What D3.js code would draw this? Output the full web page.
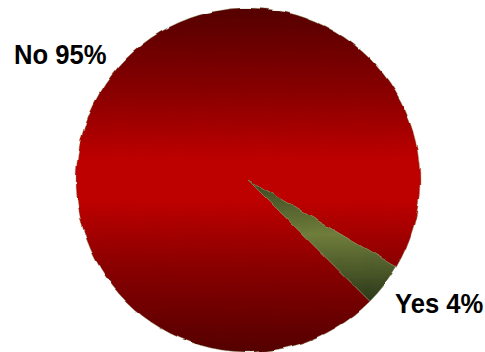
<!DOCTYPE html>
<html>
<head>
<meta charset="utf-8">
<script src="https://cdn.jsdelivr.net/npm/d3@7"></script>
<style>
  html, body { margin: 0; padding: 0; background: #ffffff; }
  svg { display: block; }
  .lbl { font-family: "Liberation Sans", Arial, sans-serif; font-weight: bold; fill: #000; }
</style>
</head>
<body>
<svg id="chart" width="485" height="352"></svg>
<script>
// Survey answers
const categories = ["No", "Yes"];
const values = [95, 4];
const labelText = ["No 95%", "Yes 4%"];

const W = 485, H = 352;
const cx = 248, cy = 180, radius = 172;

const svg = d3.select("#chart");
const defs = svg.append("defs");

// Vertical shading: dark at the rim, bright across the middle
// (coordinates are local to the pie group, centred on 0,0)
const redGrad = defs.append("linearGradient")
  .attr("id", "gradNo").attr("gradientUnits", "userSpaceOnUse")
  .attr("x1", 0).attr("y1", -radius).attr("x2", 0).attr("y2", radius);
[[0, "#540000"], [0.25, "#8a0000"], [0.44, "#bd0000"], [0.56, "#bd0000"], [0.75, "#8a0000"], [1, "#540000"]]
  .forEach(([o, c]) => redGrad.append("stop").attr("offset", o).attr("stop-color", c));

const greenGrad = defs.append("linearGradient")
  .attr("id", "gradYes").attr("x1", 0).attr("y1", 0).attr("x2", 0).attr("y2", 1);
[[0, "#3a4720"], [0.45, "#6f7d3b"], [1, "#2c381a"]].forEach(([o, c]) =>
  greenGrad.append("stop").attr("offset", o).attr("stop-color", c));

// Slightly rough rim
const rough = defs.append("filter").attr("id", "rough")
  .attr("x", "-5%").attr("y", "-5%").attr("width", "110%").attr("height", "110%");
rough.append("feTurbulence").attr("type", "fractalNoise")
  .attr("baseFrequency", 0.06).attr("numOctaves", 2).attr("seed", 3).attr("result", "noise");
rough.append("feDisplacementMap").attr("in", "SourceGraphic").attr("in2", "noise")
  .attr("scale", 4).attr("xChannelSelector", "R").attr("yChannelSelector", "G");

const startDeg = 134.85;
const pie = d3.pie().sort(null)
  .startAngle(startDeg * Math.PI / 180)
  .endAngle((startDeg + 360) * Math.PI / 180);
const arcs = pie(values);
const arc = d3.arc().innerRadius(0).outerRadius(radius);

const fills = ["url(#gradNo)", "url(#gradYes)"];

const g = svg.append("g")
  .attr("transform", `translate(${cx},${cy})`)
  .attr("filter", "url(#rough)");

g.selectAll("path.slice")
  .data(arcs)
  .join("path")
  .attr("class", "slice")
  .attr("d", arc)
  .attr("fill", (d, i) => fills[i])
  .attr("stroke", "#8a8a5a")
  .attr("stroke-width", 0.6)
  .attr("stroke-opacity", 0.7);

// Labels
const labelPos = [[14, 64], [395, 313]];
svg.selectAll("text.lbl")
  .data(categories)
  .join("text")
  .attr("class", "lbl")
  .attr("font-size", 27)
  .attr("transform", (d, i) => `translate(${labelPos[i][0]},${labelPos[i][1]}) scale(0.95,1)`)
  .text((d, i) => labelText[i]);
</script>
</body>
</html>
